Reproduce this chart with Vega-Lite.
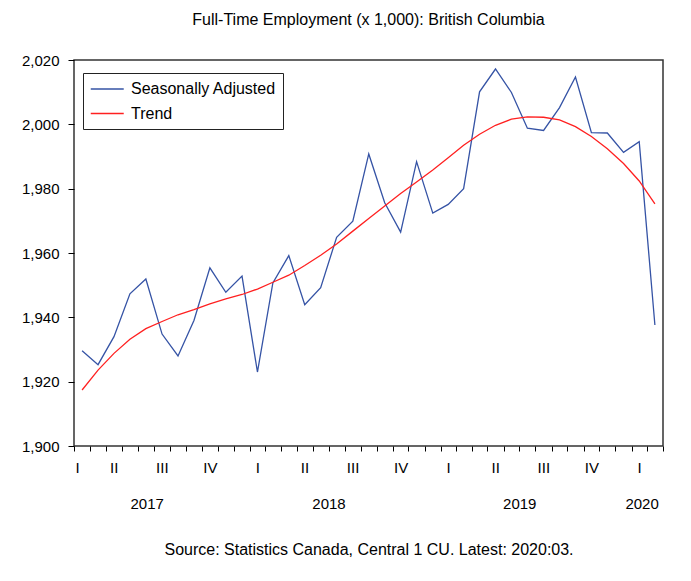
{
  "$schema": "https://vega.github.io/schema/vega-lite/v6.json",
  "width": 589,
  "height": 386,
  "autosize": {"type": "none"},
  "padding": {"left": 74, "top": 60, "right": 28, "bottom": 135},
  "background": "white",
  "config": {
    "font": "Liberation Sans",
    "view": {"stroke": "#333333", "strokeWidth": 1.5, "fill": "white"}
  },
  "title": {
    "text": "Full-Time Employment (x 1,000): British Columbia",
    "fontSize": 16,
    "fontWeight": "normal",
    "color": "black",
    "offset": 25,
    "anchor": "middle"
  },
  "data": {
    "values": [
      {"date": "2017-03-01", "Seasonally Adjusted": 1929.6, "Trend": 1917.4},
      {"date": "2017-04-01", "Seasonally Adjusted": 1925.3, "Trend": 1923.6},
      {"date": "2017-05-01", "Seasonally Adjusted": 1934.0, "Trend": 1928.8},
      {"date": "2017-06-01", "Seasonally Adjusted": 1947.3, "Trend": 1933.2},
      {"date": "2017-07-01", "Seasonally Adjusted": 1951.9, "Trend": 1936.5},
      {"date": "2017-08-01", "Seasonally Adjusted": 1934.8, "Trend": 1938.7},
      {"date": "2017-09-01", "Seasonally Adjusted": 1928.0, "Trend": 1940.8},
      {"date": "2017-10-01", "Seasonally Adjusted": 1939.0, "Trend": 1942.4},
      {"date": "2017-11-01", "Seasonally Adjusted": 1955.4, "Trend": 1944.2},
      {"date": "2017-12-01", "Seasonally Adjusted": 1947.8, "Trend": 1945.7},
      {"date": "2018-01-01", "Seasonally Adjusted": 1952.8, "Trend": 1947.1},
      {"date": "2018-02-01", "Seasonally Adjusted": 1923.0, "Trend": 1948.8},
      {"date": "2018-03-01", "Seasonally Adjusted": 1950.7, "Trend": 1950.9},
      {"date": "2018-04-01", "Seasonally Adjusted": 1959.2, "Trend": 1953.1},
      {"date": "2018-05-01", "Seasonally Adjusted": 1943.9, "Trend": 1956.1},
      {"date": "2018-06-01", "Seasonally Adjusted": 1949.2, "Trend": 1959.3},
      {"date": "2018-07-01", "Seasonally Adjusted": 1964.9, "Trend": 1962.8},
      {"date": "2018-08-01", "Seasonally Adjusted": 1969.9, "Trend": 1966.8},
      {"date": "2018-09-01", "Seasonally Adjusted": 1990.8, "Trend": 1970.7},
      {"date": "2018-10-01", "Seasonally Adjusted": 1975.6, "Trend": 1974.6},
      {"date": "2018-11-01", "Seasonally Adjusted": 1966.5, "Trend": 1978.5},
      {"date": "2018-12-01", "Seasonally Adjusted": 1988.4, "Trend": 1982.1},
      {"date": "2019-01-01", "Seasonally Adjusted": 1972.4, "Trend": 1985.8},
      {"date": "2019-02-01", "Seasonally Adjusted": 1975.1, "Trend": 1989.6},
      {"date": "2019-03-01", "Seasonally Adjusted": 1980.0, "Trend": 1993.5},
      {"date": "2019-04-01", "Seasonally Adjusted": 2010.1, "Trend": 1996.9},
      {"date": "2019-05-01", "Seasonally Adjusted": 2017.2, "Trend": 1999.7},
      {"date": "2019-06-01", "Seasonally Adjusted": 2009.9, "Trend": 2001.6},
      {"date": "2019-07-01", "Seasonally Adjusted": 1998.8, "Trend": 2002.3},
      {"date": "2019-08-01", "Seasonally Adjusted": 1998.1, "Trend": 2002.2},
      {"date": "2019-09-01", "Seasonally Adjusted": 2005.2, "Trend": 2001.4},
      {"date": "2019-10-01", "Seasonally Adjusted": 2014.7, "Trend": 1999.3},
      {"date": "2019-11-01", "Seasonally Adjusted": 1997.4, "Trend": 1996.2},
      {"date": "2019-12-01", "Seasonally Adjusted": 1997.3, "Trend": 1992.4},
      {"date": "2020-01-01", "Seasonally Adjusted": 1991.3, "Trend": 1987.8},
      {"date": "2020-02-01", "Seasonally Adjusted": 1994.6, "Trend": 1982.4},
      {"date": "2020-03-01", "Seasonally Adjusted": 1937.6, "Trend": 1975.3}
    ]
  },
  "transform": [
    {"fold": ["Seasonally Adjusted", "Trend"], "as": ["series", "value"]}
  ],
  "encoding": {
    "y": {
      "field": "value",
      "type": "quantitative",
      "scale": {"domain": [1900, 2020], "nice": false, "zero": false},
      "axis": {
        "title": null,
        "values": [1900, 1920, 1940, 1960, 1980, 2000, 2020],
        "format": ",.0f",
        "grid": false,
        "domain": false,
        "tickSize": 6,
        "tickColor": "black",
        "labelPadding": 9,
        "labelFontSize": 15,
        "labelColor": "black"
      }
    }
  },
  "layer": [
    {
      "mark": {"type": "line", "strokeWidth": 1.3},
      "encoding": {
        "x": {
          "field": "date",
          "timeUnit": "utcyearmonth",
          "type": "temporal",
          "bandPosition": 0.5,
          "scale": {
            "type": "utc",
            "domain": [
              {"year": 2017, "month": 3, "date": 1, "utc": true},
              {"year": 2020, "month": 4, "date": 1, "utc": true}
            ]
          },
          "axis": {
            "orient": "bottom",
            "title": null,
            "labels": false,
            "grid": false,
            "domain": false,
            "tickCount": {"interval": "month", "step": 1},
            "tickSize": 5,
            "tickColor": "black"
          }
        },
        "color": {
          "field": "series",
          "type": "nominal",
          "scale": {"domain": ["Seasonally Adjusted", "Trend"], "range": ["#3553a5", "#ff2020"]},
          "legend": {
            "title": null,
            "orient": "none",
            "legendX": 9,
            "legendY": 13,
            "strokeColor": "#222222",
            "fillColor": "white",
            "padding": 7,
            "symbolType": "M-1,0H3",
            "symbolSize": 272,
            "symbolStrokeWidth": 1.5,
            "labelOffset": 23,
            "labelFontSize": 16,
            "labelColor": "black",
            "rowPadding": 7.5
          }
        }
      }
    },
    {
      "mark": {"type": "point", "opacity": 0, "size": 0},
      "encoding": {
        "x": {
          "field": "date",
          "timeUnit": "utcyearmonth",
          "type": "temporal",
          "axis": {
            "orient": "bottom",
            "title": null,
            "ticks": false,
            "grid": false,
            "domain": false,
            "labelFlush": false,
            "labelOverlap": false,
            "labelPadding": 14,
            "labelFontSize": 15,
            "labelColor": "black",
            "labelBaseline": "top",
            "values": [
              {"year": 2017, "month": 3, "date": 7, "utc": true},
              {"year": 2017, "month": 5, "date": 16, "utc": true},
              {"year": 2017, "month": 8, "date": 16, "utc": true},
              {"year": 2017, "month": 11, "date": 16, "utc": true},
              {"year": 2018, "month": 2, "date": 15, "utc": true},
              {"year": 2018, "month": 5, "date": 16, "utc": true},
              {"year": 2018, "month": 8, "date": 16, "utc": true},
              {"year": 2018, "month": 11, "date": 16, "utc": true},
              {"year": 2019, "month": 2, "date": 15, "utc": true},
              {"year": 2019, "month": 5, "date": 16, "utc": true},
              {"year": 2019, "month": 8, "date": 16, "utc": true},
              {"year": 2019, "month": 11, "date": 16, "utc": true},
              {"year": 2020, "month": 2, "date": 15, "utc": true}
            ],
            "labelExpr": "['I','II','III','IV'][floor(utcmonth(datum.value)/3)]"
          }
        }
      }
    },
    {
      "mark": {"type": "point", "opacity": 0, "size": 0},
      "encoding": {
        "x": {
          "field": "date",
          "timeUnit": "utcyearmonth",
          "type": "temporal",
          "axis": {
            "orient": "bottom",
            "ticks": false,
            "grid": false,
            "domain": false,
            "labelFlush": false,
            "labelOverlap": false,
            "labelPadding": 50,
            "labelFontSize": 15,
            "labelColor": "black",
            "labelBaseline": "top",
            "values": [
              {"year": 2017, "month": 7, "date": 18, "utc": true},
              {"year": 2018, "month": 7, "date": 1, "utc": true},
              {"year": 2019, "month": 7, "date": 1, "utc": true},
              {"year": 2020, "month": 2, "date": 20, "utc": true}
            ],
            "labelExpr": "utcFormat(datum.value, '%Y')",
            "title": "Source: Statistics Canada, Central 1 CU. Latest: 2020:03.",
            "titleFontSize": 16,
            "titleFontWeight": "normal",
            "titleColor": "black",
            "titlePadding": 30
          }
        }
      }
    }
  ],
  "resolve": {"axis": {"x": "independent"}}
}
